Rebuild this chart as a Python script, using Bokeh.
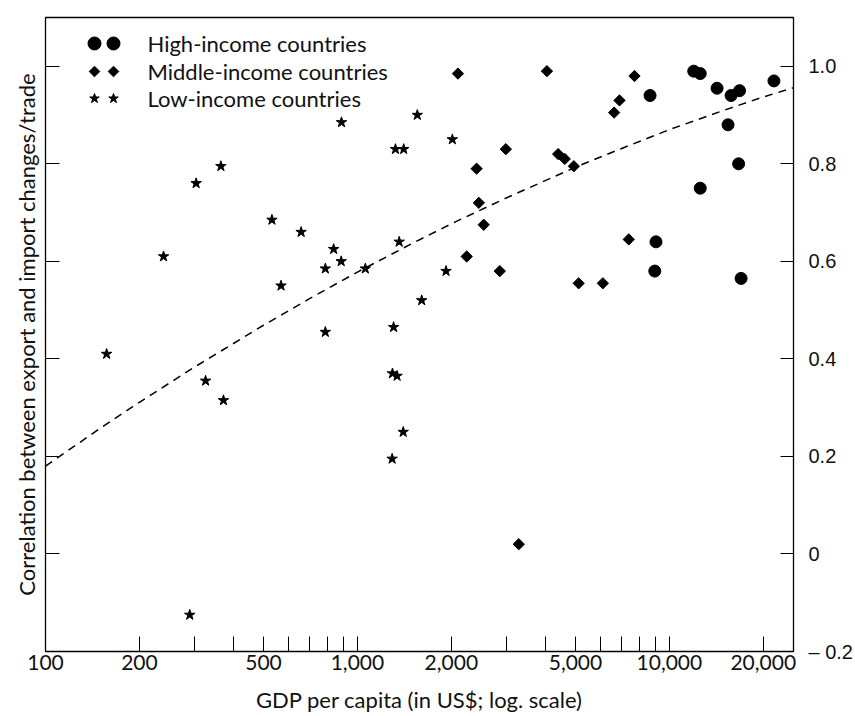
import numpy as np
from bokeh.plotting import figure
from bokeh.models import Range1d, LinearAxis, FixedTicker, LinearScale, Title
from bokeh.embed import file_html
from bokeh.resources import INLINE
from bokeh.core.properties import value

# ---------------- data ----------------
high_gdp = [11970, 12560, 8670, 14220, 15770, 16790, 21640, 15420, 16670, 12560, 9060, 8980, 16980]
high_corr = [0.99, 0.985, 0.94, 0.955, 0.94, 0.95, 0.97, 0.88, 0.80, 0.75, 0.64, 0.58, 0.565]

mid_gdp = [2100, 4050, 2990, 2410, 4400, 4620, 4940, 2450, 2540, 2240, 2860, 5120,
           7730, 6120, 7410, 6650, 6920, 3290]
mid_corr = [0.985, 0.99, 0.83, 0.79, 0.82, 0.81, 0.795, 0.72, 0.675, 0.61, 0.58, 0.555,
            0.98, 0.555, 0.645, 0.905, 0.93, 0.02]

low_gdp = [157, 239, 304, 365, 326, 372, 290, 532, 569, 660, 789, 839, 887, 889, 1060,
           789, 1306, 1324, 1407, 1361, 1295, 1340, 1402, 1292, 1556, 1607, 2015, 1923]
low_corr = [0.41, 0.61, 0.76, 0.795, 0.355, 0.315, -0.125, 0.685, 0.55, 0.66, 0.585, 0.625,
            0.60, 0.885, 0.585, 0.455, 0.465, 0.83, 0.83, 0.64, 0.37, 0.365, 0.25, 0.195,
            0.90, 0.52, 0.85, 0.58]

fit_gdp = [100, 150, 200, 300, 500, 700, 1000, 1500, 2000, 3000, 5000, 7000, 10000,
           15000, 20000, 25000]
fit_corr = [0.180, 0.258, 0.311, 0.383, 0.469, 0.523, 0.578, 0.637, 0.677, 0.730, 0.793,
            0.831, 0.870, 0.910, 0.937, 0.956]

x_major = [100, 200, 500, 1000, 2000, 5000, 10000, 20000]
x_labels = ["100", "200", "500", "1,000", "2,000", "5,000", "10,000", "20,000"]
x_minor = [300, 400, 600, 700, 800, 900, 3000, 4000, 6000, 7000, 8000, 9000]
y_ticks = [-0.2, 0, 0.2, 0.4, 0.6, 0.8, 1.0]
y_labels = ["\u2013 0.2", "0", "0.2", "0.4", "0.6", "0.8", "1.0"]

legend_labels = ["High-income countries", "Middle-income countries", "Low-income countries"]
y_title = "Correlation between export and import changes/trade"
x_title = "GDP per capita (in US$; log. scale)"

# ---------------- figure ----------------
FONT = "Lato"
p = figure(width=855, height=716, x_axis_type="log",
           x_range=Range1d(100, 25000), y_range=Range1d(-0.2, 1.1),
           output_backend="svg", toolbar_location=None, y_axis_location=None,
           min_border_left=45, min_border_right=62, min_border_top=17, min_border_bottom=65)
p.background_fill_color = "white"
p.border_fill_color = "white"
p.outline_line_color = "black"
p.outline_line_width = 1.3
p.grid.visible = False

# bottom axis
xa = p.xaxis[0]
xa.ticker = FixedTicker(ticks=x_major, minor_ticks=x_minor)
xa.major_label_overrides = {t: l for t, l in zip(x_major, x_labels)}
xa.major_tick_in = 15
xa.major_tick_out = 0
xa.minor_tick_in = 15
xa.minor_tick_out = 0
xa.major_tick_line_color = "black"
xa.minor_tick_line_color = "black"
xa.axis_line_color = "black"
xa.major_label_standoff = 3
xa.major_label_text_font = FONT
xa.major_label_text_font_size = "21px"
xa.major_label_text_color = "#111111"
xa.axis_label = x_title
xa.axis_label_text_font = FONT
xa.axis_label_text_font_size = "22px"
xa.axis_label_text_font_style = "normal"
xa.axis_label_text_color = "#111111"
xa.axis_label_standoff = 13

# left axis: inward ticks only
ya = LinearAxis(ticker=FixedTicker(ticks=y_ticks, minor_ticks=[]))
ya.major_label_overrides = {t: "" for t in y_ticks}
ya.major_tick_in = 14
ya.major_tick_out = 0
ya.minor_tick_in = 0
ya.minor_tick_out = 0
ya.major_label_standoff = 0
ya.axis_line_color = "black"
p.add_layout(ya, "left")

# y title as a side-panel title
p.add_layout(Title(text=y_title, align="center", text_font=FONT, text_font_size="22px",
                   text_font_style="normal", text_color="#111111", standoff=12), "left")

# right axis with labels
ra = LinearAxis(ticker=FixedTicker(ticks=y_ticks, minor_ticks=[]))
ra.major_label_overrides = {t: l for t, l in zip(y_ticks, y_labels)}
ra.major_tick_in = 13
ra.major_tick_out = 0
ra.minor_tick_in = 0
ra.minor_tick_out = 0
ra.major_label_standoff = 15
ra.major_label_text_font = "Liberation Sans"
ra.major_label_text_font_size = "20px"
ra.major_label_text_color = "#111111"
ra.axis_line_color = "black"
p.add_layout(ra, "right")

# ---------------- marks ----------------
p.line(fit_gdp, fit_corr, line_dash="8 6", line_width=1.5, line_color="black")
p.scatter(high_gdp, high_corr, marker="circle", size=12, color="black")
p.scatter(mid_gdp, mid_corr, marker="square", angle=np.pi / 4, size=8, color="black")
p.scatter(low_gdp, low_corr, marker="star", size=11, color="black")

# ---------------- legend (frame-pixel coordinates) ----------------
p.extra_x_ranges = {"lx": Range1d(0, 748)}
p.extra_y_ranges = {"ly": Range1d(634, 0)}
p.extra_x_scales = {"lx": LinearScale()}
p.extra_y_scales = {"ly": LinearScale()}

mk_x1, mk_x2, txt_x = 49, 68, 102
rows_y = [26, 54, 81]
markers = [("circle", 13, 0.0), ("square", 7.5, np.pi / 4), ("star", 10, 0.0)]
for (mk, sz, ang), yy in zip(markers, rows_y):
    p.scatter([mk_x1, mk_x2], [yy, yy], marker=mk, size=sz, angle=ang, color="black",
              x_range_name="lx", y_range_name="ly")
p.text(x=[txt_x] * 3, y=rows_y, text=legend_labels, x_range_name="lx", y_range_name="ly",
       text_font=value(FONT), text_font_size="22px", text_baseline="middle",
       text_align="left", text_color="#111111")

open("out.html", "w").write(file_html(p, INLINE))
